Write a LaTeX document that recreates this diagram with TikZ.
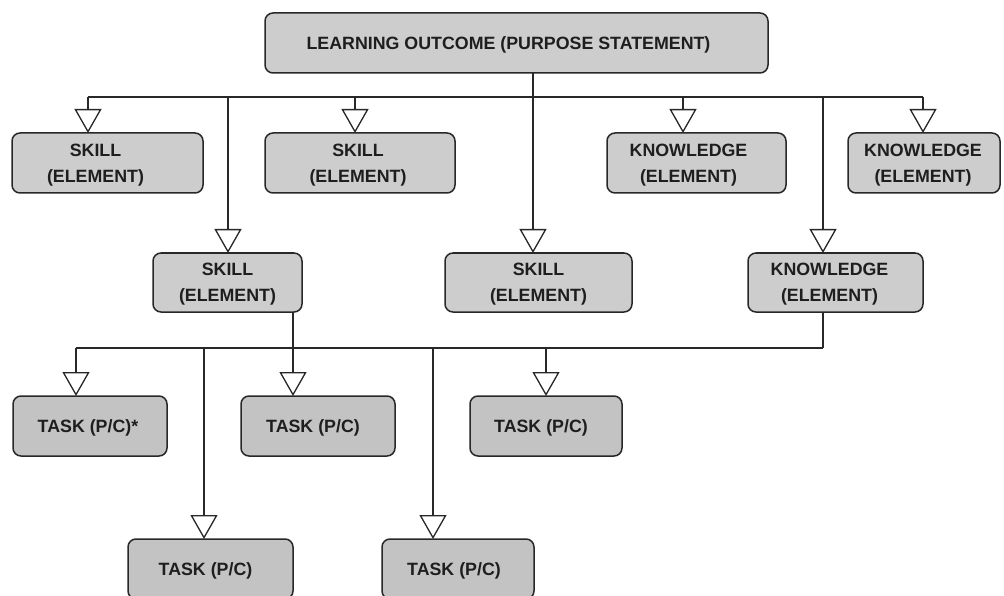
\documentclass[tikz,border=0pt]{standalone}
\usepackage{fontspec}
\setmainfont{Liberation Sans}
\usetikzlibrary{arrows.meta}
\definecolor{boxfill}{RGB}{205,205,205}
\definecolor{taskfill}{RGB}{195,195,195}
\definecolor{ink}{RGB}{40,40,40}
\definecolor{txt}{RGB}{30,30,30}
% style, name, x1, y1, x2, y2, text offset, text
\newcommand\outbox[8]{%
  \node[#1, minimum width={#5-#3}, minimum height={#6-#4}] (#2) at ({(#3+#5)/2},{(#4+#6)/2}) {};
  \node[lbl] (#2-t) at ([xshift=#7pt,yshift=-2pt]#2.center) {#8};}
\begin{document}
\begin{tikzpicture}[x=1pt,y=-1pt,
  box/.style={draw=ink, line width=1.5pt, rounded corners=8pt, fill=boxfill, inner sep=0pt, outer sep=0pt},
  taskbox/.style={box, fill=taskfill},
  lbl/.style={font=\bfseries\fontsize{17.8}{26}\selectfont, text=txt, align=center, inner sep=0pt},
  link/.style={draw=ink, line width=1.3pt},
  tip/.style={link, -{Triangle[width=27pt,length=24pt,fill=white,line join=miter]}},
]
\useasboundingbox (0,0) rectangle (1004,596);
\clip (0,0) rectangle (1004,596);

% boxes
\outbox{box}{top}{265}{13}{768}{73}{-8}{LEARNING OUTCOME (PURPOSE STATEMENT)}
\outbox{box}{sk1}{12}{133}{203}{193}{-12}{SKILL\\(ELEMENT)}
\outbox{box}{sk2}{265}{133}{455}{193}{-2}{SKILL\\(ELEMENT)}
\outbox{box}{kn1}{607}{133}{786}{193}{-8}{KNOWLEDGE\\(ELEMENT)}
\outbox{box}{kn2}{848}{133}{1000}{193}{-1}{KNOWLEDGE\\(ELEMENT)}
\outbox{box}{sk3}{153}{253}{302}{312}{0}{SKILL\\(ELEMENT)}
\outbox{box}{sk4}{445}{253}{632}{312}{0}{SKILL\\(ELEMENT)}
\outbox{box}{kn3}{748}{253}{923}{312}{-6}{KNOWLEDGE\\(ELEMENT)}
\outbox{taskbox}{t1}{13}{396}{167}{456}{-2}{TASK (P/C)*}
\outbox{taskbox}{t2}{241}{396}{395}{456}{-5}{TASK (P/C)}
\outbox{taskbox}{t3}{470}{396}{622}{456}{-5}{TASK (P/C)}
\outbox{taskbox}{t4}{128}{539}{293}{599}{-5}{TASK (P/C)}
\outbox{taskbox}{t5}{382}{539}{534}{599}{-4}{TASK (P/C)}

% upper distribution line
\coordinate (d1) at (88,97);
\coordinate (d2) at (228,97);
\coordinate (d3) at (355,97);
\coordinate (d4) at (533,97);
\coordinate (d5) at (683,97);
\coordinate (d6) at (823,97);
\coordinate (d7) at (923,97);
\draw[link] (d1) -- (d7);
\draw[tip] (top.south -| d4) -- (d4 |- sk4.north);
\draw[tip] (d1) -- (d1 |- sk1.north);
\draw[tip] (d3) -- (d3 |- sk2.north);
\draw[tip] (d5) -- (d5 |- kn1.north);
\draw[tip] (d7) -- (d7 |- kn2.north);
\draw[tip] (d2) -- (d2 |- sk3.north);
\draw[tip] (d6) -- (d6 |- kn3.north);

% lower distribution line
\coordinate (e1) at (76,348);
\coordinate (e2) at (204,348);
\coordinate (e3) at (293,348);
\coordinate (e4) at (433,348);
\coordinate (e5) at (546,348);
\coordinate (e6) at (823,348);
\draw[link] (e1) -- (e6);
\draw[link] (kn3.south -| e6) -- (e6);
\draw[tip] (sk3.south -| e3) -- (e3 |- t2.north);
\draw[tip] (e1) -- (e1 |- t1.north);
\draw[tip] (e5) -- (e5 |- t3.north);
\draw[tip] (e2) -- (e2 |- t4.north);
\draw[tip] (e4) -- (e4 |- t5.north);
\end{tikzpicture}
\end{document}
